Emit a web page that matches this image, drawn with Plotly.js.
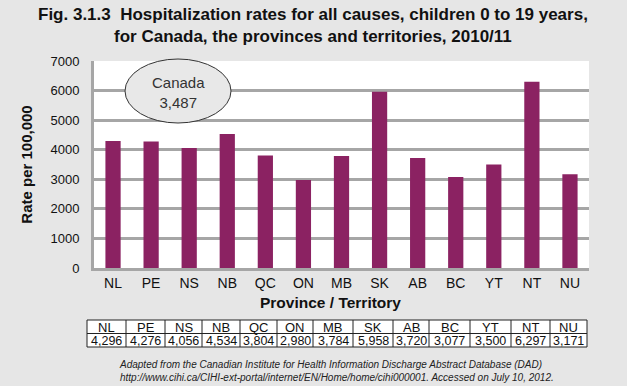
<!DOCTYPE html>
<html>
<head>
<meta charset="utf-8">
<script src="https://cdn.plot.ly/plotly-3.0.1.min.js"></script>
<style>
html,body{margin:0;padding:0;background:#e6e6e6;}
#chart{width:627px;height:386px;}
</style>
</head>
<body>
<div id="chart"></div>
<script>
var categories = ['NL','PE','NS','NB','QC','ON','MB','SK','AB','BC','YT','NT','NU'];
var rates = [4296, 4276, 4056, 4534, 3804, 2980, 3784, 5958, 3720, 3077, 3500, 6297, 3171];
var canadaRate = 3487;
var yTicks = [0,1000,2000,3000,4000,5000,6000,7000];
var titleLines = ['Fig. 3.1.3  Hospitalization rates for all causes, children 0 to 19 years,',
                  'for Canada, the provinces and territories, 2010/11'];
var xTitle = 'Province / Territory';
var sourceLines = ['Adapted from the Canadian Institute for Health Information Discharge Abstract Database (DAD)',
                   'http://www.cihi.ca/CIHI-ext-portal/internet/EN/Home/home/cihi000001. Accessed on July 10, 2012.'];

function fmt(v){ return v.toLocaleString('en-US'); }

// layout geometry (pixels)
var W = 627, H = 386;
var L = 94, R = 589, T = 61, B = 268;
function px(xp){ return (xp - L) / (R - L); }
function py(yp){ return (B - yp) / (B - T); }

// table geometry (pixels)
var colW = [39,39,37,38,37,36,40,40,36,41,41,39,37];
var tabLeft = 87, tabTop = 320, tabMid = 333.5, tabBot = 347;

var bar = {
  type:'bar', x:categories, y:rates,
  marker:{color:'#8b2262'}, width:0.4,
  hoverinfo:'x+y', showlegend:false
};

var shapes = [{
  type:'circle', xref:'paper', yref:'paper',
  x0:px(125), x1:px(231), y0:py(123), y1:py(59),
  fillcolor:'#e8e8e8', line:{color:'#333', width:1}
}];
var annotations = [];

// title
annotations.push({
  text:'<b>'+titleLines.join('<br>')+'</b>', xref:'paper', yref:'paper',
  x:px(313), y:py(3), xanchor:'center', yanchor:'top', align:'center',
  showarrow:false, font:{size:17, color:'#111'}
});
// x axis title
annotations.push({
  text:'<b>'+xTitle+'</b>', xref:'paper', yref:'paper',
  x:px(330), y:py(302), xanchor:'center', yanchor:'middle',
  showarrow:false, font:{size:15.5, color:'#111'}
});
// Canada callout
annotations.push({
  text:'Canada<br>'+fmt(canadaRate), xref:'paper', yref:'paper',
  x:px(178), y:py(92), xanchor:'center', yanchor:'middle', align:'center',
  showarrow:false, font:{size:15, color:'#333'}
});
// source
annotations.push({
  text:'<i>'+sourceLines.join('<br>')+'</i>', xref:'paper', yref:'paper',
  x:px(117), y:py(357), xanchor:'left', yanchor:'top', align:'left',
  showarrow:false, font:{size:10, color:'#222'}
});

// data table
var tabRight = tabLeft + colW.reduce(function(a,b){return a+b;},0);
shapes.push({type:'rect', xref:'paper', yref:'paper', x0:px(tabLeft), x1:px(tabRight), y0:py(tabBot), y1:py(tabTop),
  fillcolor:'#ffffff', line:{color:'#222', width:1}});
shapes.push({type:'line', xref:'paper', yref:'paper', x0:px(tabLeft), x1:px(tabRight), y0:py(tabMid), y1:py(tabMid),
  line:{color:'#222', width:1}});
var cx = tabLeft;
categories.forEach(function(c, i){
  var x0 = cx, x1 = cx + colW[i];
  if (i > 0) shapes.push({type:'line', xref:'paper', yref:'paper', x0:px(x0), x1:px(x0), y0:py(tabBot), y1:py(tabTop),
    line:{color:'#222', width:1}});
  annotations.push({text:c, xref:'paper', yref:'paper', x:px((x0+x1)/2), y:py((tabTop+tabMid)/2+0.5),
    xanchor:'center', yanchor:'middle', showarrow:false, borderpad:0, font:{size:13, color:'#111'}});
  annotations.push({text:fmt(rates[i]), xref:'paper', yref:'paper', x:px((x0+x1)/2), y:py((tabMid+tabBot)/2+0.5),
    xanchor:'center', yanchor:'middle', showarrow:false, borderpad:0, font:{size:12.5, color:'#111'}});
  cx = x1;
});

var layout = {
  width:W, height:H,
  paper_bgcolor:'#e6e6e6', plot_bgcolor:'#ffffff',
  margin:{l:L, r:W-R, t:T, b:H-B},
  font:{family:'Liberation Sans, Arial, sans-serif', color:'#111'},
  xaxis:{
    type:'category',
    showline:true, linecolor:'#a6a6a6', linewidth:3,
    tickfont:{size:14}, ticks:''
  },
  yaxis:{
    range:[0,7000],
    tickvals:yTicks, ticktext:yTicks.map(String),
    showgrid:true, gridcolor:'#a6a6a6', gridwidth:3,
    showline:true, linecolor:'#a6a6a6', linewidth:3,
    zeroline:false,
    tickfont:{size:13}, ticks:'', ticklabelstandoff:9,
    title:{text:'<b>Rate per 100,000</b>', font:{size:15}, standoff:15}
  },
  shapes:shapes,
  annotations:annotations
};

Plotly.newPlot('chart', [bar], layout, {displayModeBar:false, staticPlot:true});
</script>
</body>
</html>
